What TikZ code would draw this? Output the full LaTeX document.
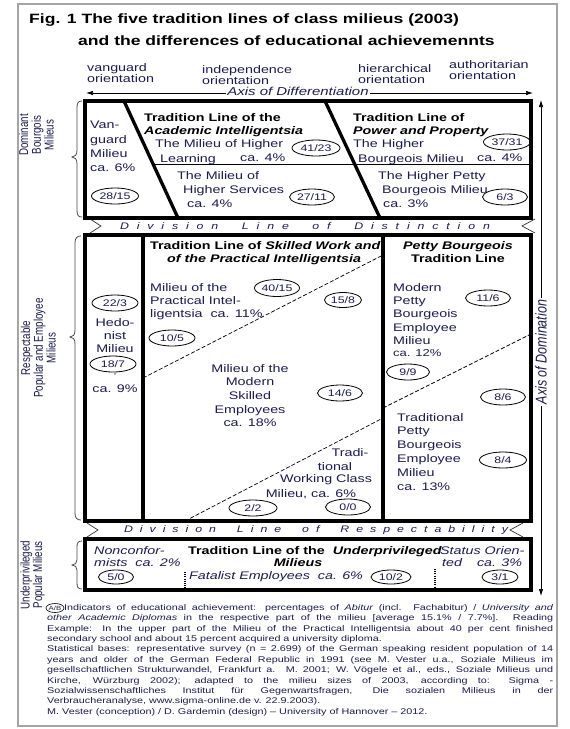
\documentclass[tikz,border=0pt]{standalone}
\usepackage{fontspec}
\setmainfont{Liberation Sans}[FakeStretch=1.3]
\newfontfamily\rotfont{Liberation Sans}
\usetikzlibrary{arrows.meta,shapes.geometric}
\definecolor{ink}{RGB}{28,28,78}
\definecolor{framegray}{RGB}{165,165,165}
\tikzset{
  txt/.style={font=\fontsize{11}{13.6}\selectfont, text=ink, inner sep=0pt, align=left, anchor=north west},
  ctxt/.style={txt, align=center, anchor=north},
  mtxt/.style={txt, anchor=center},
  head/.style={font=\bfseries\fontsize{11}{13}\selectfont, text=black, inner sep=0pt, align=left, anchor=north west},
  num/.style={ellipse, draw=black, line width=0.8pt, inner sep=0pt, minimum height=16pt, minimum width=46pt, font=\fontsize{9.5}{10}\selectfont, text=ink},
  boxline/.style={line width=4pt, black},
  thickline/.style={line width=3.3pt, black},
  thinline/.style={line width=1pt, black},
  dashline/.style={line width=0.7pt, dash pattern=on 4pt off 2pt},
  dotline/.style={line width=1.2pt, dash pattern=on 1pt off 1.2pt},
  divtext/.style={font=\itshape\fontsize{9.5}{10}\selectfont, text=ink, inner sep=0pt},
  chev/.style={line width=0.7pt, black!80},
  bracepath/.style={line width=0.8pt, black!70},
  rotlab/.style={rotate=90, inner sep=0pt, text=ink, font=\rotfont\fontsize{9.8}{8.8}\selectfont},
  axarrow/.style={line width=0.7pt, {Latex[length=7pt,width=4.5pt]}-{Latex[length=7pt,width=4.5pt]}},
}
\begin{document}
\begin{tikzpicture}[x=1pt,y=-1pt]
\useasboundingbox (0,0) rectangle (570,729);
\fill[white] (0,0) rectangle (570,729);
\draw[framegray, line width=1.5pt] (18,4) rectangle (557,726);

% title
\node[anchor=north west, inner sep=0pt, font=\bfseries\fontsize{13.5}{16}\selectfont] (title1) at (29,14) {Fig. 1 The five tradition lines of class milieus (2003)};
\node[anchor=north west, inner sep=0pt, font=\bfseries\fontsize{13.5}{16}\selectfont] (title2) at (78,36) {and the differences of educational achievemennts};

% orientations
\node[txt, font=\fontsize{11}{11.5}\selectfont] (vo) at (87,63) {vanguard\\orientation};
\node[txt, font=\fontsize{11}{11.5}\selectfont] (io) at (202,65) {independence\\orientation};
\node[txt, font=\fontsize{11}{11.5}\selectfont] (ho) at (358,64) {hierarchical\\orientation};
\node[txt, font=\fontsize{11}{11.5}\selectfont] (ao) at (449,60) {authoritarian\\orientation};

% axes
\coordinate (axL) at (86,93);
\coordinate (axR) at (533,93);
\draw[axarrow] (axL) -- (axR);
\node[fill=white, inner sep=1.5pt, text=ink, font=\itshape\fontsize{11.5}{12}\selectfont] (axd) at (298,91) {Axis of Differentiation};
\coordinate (axT) at (541,100);
\coordinate (axB) at (541,596);
\draw[axarrow] (axB) -- (axT);
\node[fill=white, rotate=90, inner sep=2pt, text=ink, font=\rotfont\itshape\fontsize{12.5}{12}\selectfont] (axdom) at (541,352) {\scalebox{1}[1.25]{Axis of Domination}};

% left labels
\node[rotlab] (lab1) at (38,135) {\scalebox{1}[1.3]{\begin{tabular}{@{}c@{}}Dominant\\Bourgois\\Milieus\end{tabular}}};
\node[rotlab] (lab2) at (40,348) {\scalebox{1}[1.3]{\begin{tabular}{@{}c@{}}Respectable\\Popular and Employee\\Milieus\end{tabular}}};
\node[rotlab] (lab3) at (33,575) {\scalebox{1}[1.3]{\begin{tabular}{@{}c@{}}Underprivileged\\Popular Milieus\end{tabular}}};

% braces
\draw[bracepath] (82,101) .. controls (78,101) and (77,103) .. (77,108) -- (77,150) .. controls (77,155) and (75,157) .. (72,157) .. controls (75,157) and (77,159) .. (77,164) -- (77,210) .. controls (77,215) and (78,217) .. (82,217);
\draw[bracepath] (81,236) .. controls (77,236) and (75,238) .. (75,243) -- (75,330) .. controls (75,335) and (73,337) .. (70,337) .. controls (73,337) and (75,339) .. (75,344) -- (75,513) .. controls (75,518) and (77,520) .. (81,520);
\draw[bracepath] (82,541) .. controls (78,541) and (77,543) .. (77,547) -- (77,560) .. controls (77,563) and (75,565) .. (72,565) .. controls (75,565) and (77,567) .. (77,570) -- (77,583) .. controls (77,587) and (78,589) .. (82,589);

% ---------- top box texts
\node[txt, font=\fontsize{11}{14.3}\selectfont] (vang) at (90,121) {Van-\\guard\\Milieu\\ca. 6\%};
\node[num, minimum width=47pt] (n2815) at (115,196) {28/15};
\node[head] (acad) at (144,113) {Tradition Line of the\\\textit{Academic Intelligentsia}};
\node[txt] (hl1) at (155,139) {The Milieu of Higher};
\node[txt] (hl2) at (160,154) {Learning};
\node[txt] (hlpc) at (240,154) {ca. 4\%};
\node[txt, font=\fontsize{11}{14}\selectfont] (hserv) at (177,171) {The Milieu of\\\hspace*{6pt}Higher Services\\\hspace*{10pt}ca. 4\%};
\node[num, minimum width=48pt] (n4123) at (316,148) {41/23};
\node[num, minimum width=45pt] (n2711) at (312,197) {27/11};
\node[head] (power) at (353,113) {Tradition Line of\\\textit{Power and Property}};
\node[txt] (hb1) at (353,139) {The Higher};
\node[txt] (hb2) at (358,154) {Bourgeois Milieu};
\node[txt] (hbpc) at (477,154) {ca. 4\%};
\node[num, minimum width=47pt] (n3731) at (507,142) {37/31};
\node[txt, font=\fontsize{11}{14}\selectfont] (hpb) at (378,171) {The Higher Petty\\\hspace*{4pt}Bourgeois Milieu\\\hspace*{5pt}ca. 3\%};
\node[num, minimum width=45pt] (n63) at (505,197) {6/3};

% division of distinction
\node[divtext] (dist) at (305,226) {\makebox[370pt]{D\hfill i\hfill v\hfill i\hfill s\hfill i\hfill o\hfill n\hfill\hfill\hfill L\hfill i\hfill n\hfill e\hfill\hfill\hfill o\hfill f\hfill\hfill\hfill D\hfill i\hfill s\hfill t\hfill i\hfill n\hfill c\hfill t\hfill i\hfill o\hfill n}};
\draw[chev] (90,219) -- (101,226) -- (90,233);
\draw[chev] (535,219) -- (522,226) -- (535,233);

% ---------- middle box texts
\node[head] (skill1) at (150,241) {Tradition Line of \textit{Skilled Work and}};
\node[head] (skill2) at (167,254) {\textit{of the Practical Intelligentsia}};
\node[txt, font=\fontsize{11}{13}\selectfont] (pi) at (150,283) {Milieu of the\\Practical Intel-\\ligentsia \ ca. 11\%};
\node[num, minimum width=45pt, minimum height=17pt] (n4015) at (277,288) {40/15};
\node[num, minimum width=37pt, minimum height=15pt] (n158) at (343,300) {15/8};
\node[num] (n105) at (172,338) {10/5};
\node[ctxt, font=\fontsize{11}{13.7}\selectfont] (mse) at (250,364) {Milieu of the\\Modern\\Skilled\\Employees\\ca. 18\%};
\node[num, minimum width=45pt] (n146) at (340,393) {14/6};
\node[mtxt] (twc1) at (350,453) {Tradi-};
\node[mtxt] (twc2) at (335,467) {tional};
\node[mtxt] (twc3) at (326,480) {Working Class};
\node[mtxt] (twc4) at (311,494) {Milieu, ca. 6\%};
\node[num, minimum width=48pt] (n22) at (253,508) {2/2};
\node[num, minimum width=45pt] (n00) at (348,507) {0/0};
% hedonist
\node[num] (n223) at (115,303) {22/3};
\node[ctxt, font=\fontsize{11}{13}\selectfont] (hed) at (115,318) {Hedo-\\nist\\Milieu};
\node[num] (n187) at (113,364) {18/7};
\node[mtxt, font=\fontsize{8}{8}\selectfont] (comma) at (115,375) {,};
\node[mtxt] (hedpc) at (115,389) {ca. 9\%};
% petty bourgeois
\node[head, align=center, anchor=north] (pbt) at (458,241) {\textit{Petty Bourgeois}\\Tradition Line};
\node[txt, font=\fontsize{11}{13.3}\selectfont] (mpb) at (393,283) {Modern\\Petty\\Bourgeois\\Employee\\Milieu};
\node[txt, font=\fontsize{10}{11}\selectfont, anchor=west] (mpbpc) at (393,353) {ca. 12\%};
\node[num, minimum width=45pt] (n116) at (488,298) {11/6};
\node[num, minimum width=43pt] (n99) at (408,372) {9/9};
\node[num, minimum width=45pt] (n86) at (503,397) {8/6};
\node[txt, font=\fontsize{11}{13.8}\selectfont] (tpb) at (397,413) {Traditional\\Petty\\Bourgeois\\Employee\\Milieu\\ca. 13\%};
\node[num, minimum width=47pt] (n84) at (503,460) {8/4};

% division of respectability
\node[divtext] (resp) at (316,530) {\makebox[384pt]{D\hfill i\hfill v\hfill i\hfill s\hfill i\hfill o\hfill n\hfill\hfill\hfill L\hfill i\hfill n\hfill e\hfill\hfill\hfill o\hfill f\hfill\hfill\hfill R\hfill e\hfill s\hfill p\hfill e\hfill c\hfill t\hfill a\hfill b\hfill i\hfill l\hfill i\hfill t\hfill y}};
\draw[chev] (87,523) -- (98,530) -- (87,537);
\draw[chev] (523,523) -- (510,530) -- (523,537);

% ---------- bottom box texts
\node[txt, font=\itshape\fontsize{11}{12}\selectfont] (nonc) at (94,546) {Nonconfor-\\mists \ ca. 2\%};
\node[num, minimum width=35pt, minimum height=14pt] (n50) at (116,577) {5/0};
\node[head] (upl) at (188,546) {Tradition Line of the \ \textit{Underprivileged}};
\node[head, anchor=north] (upl2) at (298,558) {\textit{Milieus}};
\node[txt, font=\itshape\fontsize{11}{12}\selectfont, anchor=west] (fat) at (189,577) {Fatalist Employees \ ca. 6\%};
\node[num, minimum width=40pt, minimum height=14pt] (n102) at (391,577) {10/2};
\node[txt, font=\itshape\fontsize{11}{12}\selectfont] (stat) at (440,546) {Status Orien-\\\hspace*{2pt}ted \quad ca. 3\%};
\node[num, minimum width=36pt, minimum height=14pt] (n31) at (500,577) {3/1};
\coordinate (dt1) at (185,572); \coordinate (db1) at (185,588);
\coordinate (dt2) at (435,569); \coordinate (db2) at (435,587);
\draw[dotline] (dt1) -- (db1);
\draw[dotline] (dt2) -- (db2);

% ---------- footnote
\node[num, minimum width=18pt, minimum height=9pt, font=\fontsize{6}{6}\selectfont, line width=0.6pt] (ab) at (55,608) {A/B};
\node[anchor=north west, inner sep=0pt, align=left, text=ink, font=\fontsize{8.3}{10.4}\selectfont] (foot) at (47,604) {%
\hspace*{17pt}\makebox[489pt][s]{Indicators of educational achievement: percentages of \textit{Abitur} (incl. Fachabitur) / \textit{University and}}\\
\makebox[506pt][s]{\textit{other Academic Diplomas} in the respective part of the milieu [average 15.1\% / 7.7\%]. Reading}\\
\makebox[506pt][s]{Example: In the upper part of the Milieu of the Practical Intelligentsia about 40 per cent finished}\\
\makebox[506pt][l]{secondary school and about 15 percent acquired a university diploma.}\\
\makebox[506pt][s]{Statistical bases: representative survey (n = 2.699) of the German speaking resident population of 14}\\
\makebox[506pt][s]{years and older of the German Federal Republic in 1991 (see M. Vester u.a., Soziale Milieus im}\\
\makebox[506pt][s]{gesellschaftlichen Strukturwandel, Frankfurt a. M. 2001; W. Vögele et al., eds., Soziale Milieus und}\\
\makebox[506pt][s]{Kirche, Würzburg 2002); adapted to the milieu sizes of 2003, according to: Sigma -}\\
\makebox[506pt][s]{Sozialwissenschaftliches Institut für Gegenwartsfragen, Die sozialen Milieus in der}\\
\makebox[506pt][l]{Verbraucheranalyse, www.sigma-online.de v. 22.9.2003).}\\
\makebox[506pt][l]{M. Vester (conception) / D. Gardemin (design) -- University of Hannover -- 2012.}};

% ---------- structure lines
% top box
\coordinate (tA) at (124,101); \coordinate (tB) at (178,218);
\coordinate (tC) at (325,101); \coordinate (tD) at (380,218);
\coordinate (hL) at (153,164); \coordinate (hR) at (531,164);
\draw[thinline] (hL) -- (hR);
\draw[thickline] (tA) -- (tB);
\draw[thickline] (tC) -- (tD);
\draw[boxline] (85,101) rectangle (531,218);
% middle box
\coordinate (d1a) at (143,378); \coordinate (d1b) at (383,255);
\coordinate (d2a) at (185,521); \coordinate (d2b) at (383,418);
\coordinate (d3a) at (383,408); \coordinate (d3b) at (531,334);
\draw[dashline] (d1a) -- (d1b);
\draw[dashline] (d2a) -- (d2b);
\draw[dashline] (d3a) -- (d3b);
\coordinate (v1t) at (143,235); \coordinate (v1b) at (143,521);
\coordinate (v2t) at (383,235); \coordinate (v2b) at (383,521);
\draw[line width=3.6pt] (v1t) -- (v1b);
\draw[line width=3.8pt] (v2t) -- (v2b);
\draw[boxline] (85,235) rectangle (531,521);
% bottom box
\draw[boxline] (85,539) rectangle (531,590);
\end{tikzpicture}
\end{document}
